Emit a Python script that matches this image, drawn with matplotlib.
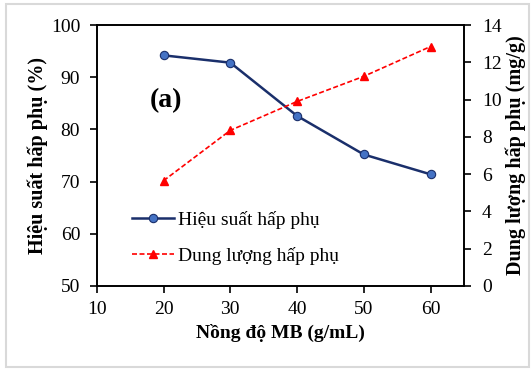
import numpy as np
import matplotlib.pyplot as plt
from matplotlib.patches import Rectangle

plt.rcParams["font.family"] = ["Liberation Serif", "DejaVu Serif"]

# MB concentration (g/mL)
conc = [20, 30, 40, 50, 60]
# adsorption efficiency (%)
efficiency = [94.2, 92.8, 82.6, 75.2, 71.4]
# adsorption capacity (mg/g)
capacity = [5.65, 8.35, 9.9, 11.25, 12.85]

fig = plt.figure(figsize=(5.32, 3.69), dpi=100)
ax = fig.add_axes([0.182, 0.225, 0.69, 0.707])
ax2 = ax.twinx()

l1, = ax.plot(conc, efficiency, color="#1a2f6b", lw=1.8, marker="o", ms=6,
              mfc="#4472c4", mec="#1a2f6b", mew=0.8, label="Hiệu suất hấp phụ")
l2, = ax2.plot(conc, capacity, color="red", lw=1.2, ls=(0, (3, 1.5)), marker="^",
               ms=6, mfc="red", mec="red", label="Dung lượng hấp phụ")

ax.set_xlim(10, 65)
ax.set_ylim(50, 100)
ax2.set_ylim(0, 14)
ax.set_xticks([10, 20, 30, 40, 50, 60])
ax.set_yticks(np.arange(50, 101, 10))
ax2.set_yticks(np.arange(0, 15, 2))

for a in (ax, ax2):
    a.tick_params(direction="out", length=5, width=1.2, labelsize=14, colors="black")
    for s in a.spines.values():
        s.set_linewidth(1.2)
ax.tick_params(axis="x", pad=6)
ax.tick_params(axis="y", pad=7)
ax2.tick_params(axis="y", pad=8)

ax.set_xlabel("Nồng độ MB (g/mL)", fontsize=14, fontweight="bold", labelpad=4)
ax.set_ylabel("Hiệu suất hấp phụ (%)", fontsize=14.5, fontweight="bold", labelpad=2)
ax2.set_ylabel("Dung lượng hấp phụ (mg/g)", fontsize=14.5, fontweight="bold", labelpad=3)

ax.text(18, 84.2, "(a)", fontsize=20, fontweight="bold")

ax.legend(handles=[l1, l2], loc="lower left", bbox_to_anchor=(0.068, 0.042),
          frameon=False, fontsize=14, handlelength=2.2, handletextpad=0.2,
          labelspacing=0.95, borderpad=0)

fig.patches.append(Rectangle((0.012, 0.005), 0.983, 0.983, transform=fig.transFigure,
                             fill=False, ec="#d9d9d9", lw=1.5))

fig.savefig("out.png", dpi=100)
